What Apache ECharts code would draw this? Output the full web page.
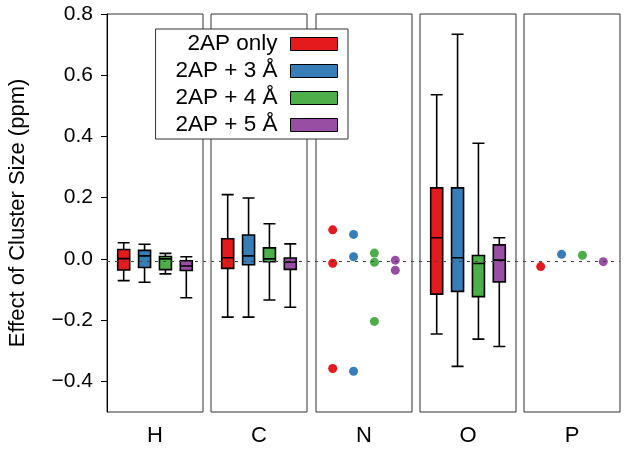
<!DOCTYPE html>
<html>
<head>
<meta charset="utf-8">
<script src="https://cdn.jsdelivr.net/npm/echarts@6/dist/echarts.min.js"></script>
<style>html,body{margin:0;padding:0;background:#fff}#c{width:627px;height:452px}</style>
</head>
<body>
<div id="c"></div>
<script>
// ---- data ----
const groups = ['2AP only', '2AP + 3 Å', '2AP + 4 Å', '2AP + 5 Å'];
const panels = ['H', 'C', 'N', 'O', 'P'];
const yTicks = [-0.4, -0.2, 0.0, 0.2, 0.4, 0.6, 0.8];
const refLineY = 0;
// box stats per group: [min, Q1, median, Q3, max]
const boxH = [[-0.071, -0.036, 0.001, 0.031, 0.053], [-0.076, -0.028, 0.010, 0.028, 0.048], [-0.049, -0.035, 0.000, 0.008, 0.018], [-0.127, -0.038, -0.023, -0.006, 0.007]];
const boxC = [[-0.190, -0.031, 0.004, 0.066, 0.210], [-0.190, -0.019, 0.010, 0.078, 0.199], [-0.134, -0.009, 0.000, 0.036, 0.115], [-0.158, -0.034, -0.010, 0.003, 0.049]];
const boxO = [[-0.245, -0.115, 0.069, 0.232, 0.536], [-0.351, -0.106, 0.004, 0.232, 0.734], [-0.262, -0.123, -0.015, 0.011, 0.378], [-0.286, -0.075, -0.004, 0.046, 0.069]];
// individual points per group
const ptsN = [[0.095, -0.014, -0.358], [0.080, 0.007, -0.367], [0.019, -0.011, -0.204], [-0.004, -0.037]];
const ptsP = [[-0.025], [0.015], [0.012], [-0.009]];

// ---- style ----
const colors = ['#E41A1C', '#377EB8', '#4DAF4A', '#984EA3'];
const FONT = 'Liberation Sans';
const panelLefts = [107, 211, 316, 420, 524];
const panelWidth = 96;
const gTop = 14, gBottom = 37;
const yMin = -0.5, yMax = 0.8;

const fmt = v => v.toFixed(1).replace('-', '\u2212');

const grid = panelLefts.map(l => ({left: l, width: panelWidth, top: gTop, bottom: gBottom, show: true, borderColor: '#333', borderWidth: 1, backgroundColor: 'transparent'}));
grid.push({left: panelLefts[0], right: 627 - panelLefts[4] - panelWidth, top: gTop, bottom: gBottom, show: false});

const xAxis = panels.map((p, i) => ({
  type: 'value', gridIndex: i, min: 0.2, max: 4.8,
  axisLine: {show: false}, axisTick: {show: false}, axisLabel: {show: false}, splitLine: {show: false},
  name: p, nameLocation: 'middle', nameGap: 13,
  nameTextStyle: {fontSize: 22, color: '#000', fontFamily: FONT}
}));
xAxis.push({type: 'value', gridIndex: 5, min: 0, max: 1, show: false});

const yAxis = panels.map((p, i) => i === 0 ? ({
  type: 'value', gridIndex: 0, min: yMin, max: yMax,
  name: 'Effect of Cluster Size (ppm)', nameLocation: 'middle', nameGap: 78,
  nameTextStyle: {fontSize: 22, color: '#000', fontFamily: FONT},
  axisLine: {show: true, lineStyle: {color: '#000', width: 1}},
  axisTick: {show: true, length: 6, customValues: yTicks, lineStyle: {color: '#000'}},
  axisLabel: {show: true, customValues: yTicks, formatter: fmt, fontSize: 21, color: '#000', margin: 14, fontFamily: FONT},
  splitLine: {show: false}
}) : ({type: 'value', gridIndex: i, min: yMin, max: yMax, show: false, splitLine: {show: false}}));
yAxis.push({type: 'value', gridIndex: 5, min: yMin, max: yMax, show: false});

const series = [];
// reference dashed line across whole plot
series.push({
  type: 'line', xAxisIndex: 5, yAxisIndex: 5, data: [], z: 0, silent: true,
  markLine: {silent: true, symbol: 'none', label: {show: false},
    lineStyle: {color: '#444', type: [3, 5], width: 1},
    data: [{yAxis: refLineY}]}
});

function boxSeries(idx, stats) {
  return {
    type: 'boxplot', name: panels[idx], xAxisIndex: idx, yAxisIndex: idx, z: 3,
    boxWidth: [12, 12],
    itemStyle: {borderColor: '#000', borderWidth: 1.6},
    data: stats.map((s, g) => ({value: [g + 1].concat(s), itemStyle: {color: colors[g], borderColor: '#000'}}))
  };
}
series.push(boxSeries(0, boxH));
series.push(boxSeries(1, boxC));
series.push(boxSeries(3, boxO));

function ptSeries(idx, pts) {
  pts.forEach((vals, g) => {
    series.push({
      type: 'scatter', name: groups[g], xAxisIndex: idx, yAxisIndex: idx, z: 3,
      symbolSize: 9, itemStyle: {color: colors[g], opacity: 1},
      data: vals.map(v => [g + 1, v])
    });
  });
}
ptSeries(2, ptsN);
ptSeries(4, ptsP);

const option = {
  animation: false,
  textStyle: {fontFamily: FONT},
  grid, xAxis, yAxis, series,
  legend: {
    orient: 'vertical', right: 279, top: 29, align: 'right',
    itemWidth: 47, itemHeight: 13, itemGap: 3,
    padding: [3, 10, 2, 20],
    backgroundColor: '#fff', borderColor: '#333', borderWidth: 1,
    textStyle: {fontSize: 22.5, lineHeight: 24, color: '#000', fontFamily: FONT, padding: [0, 8, 0, 0]},
    selectedMode: false,
    data: groups.map((g, i) => ({name: g, icon: 'rect', itemStyle: {color: colors[i], borderColor: '#000', borderWidth: 1}}))
  }
};
const chart = echarts.init(document.getElementById('c'), null, {renderer: 'canvas'});
chart.setOption(option);
</script>
</body>
</html>
